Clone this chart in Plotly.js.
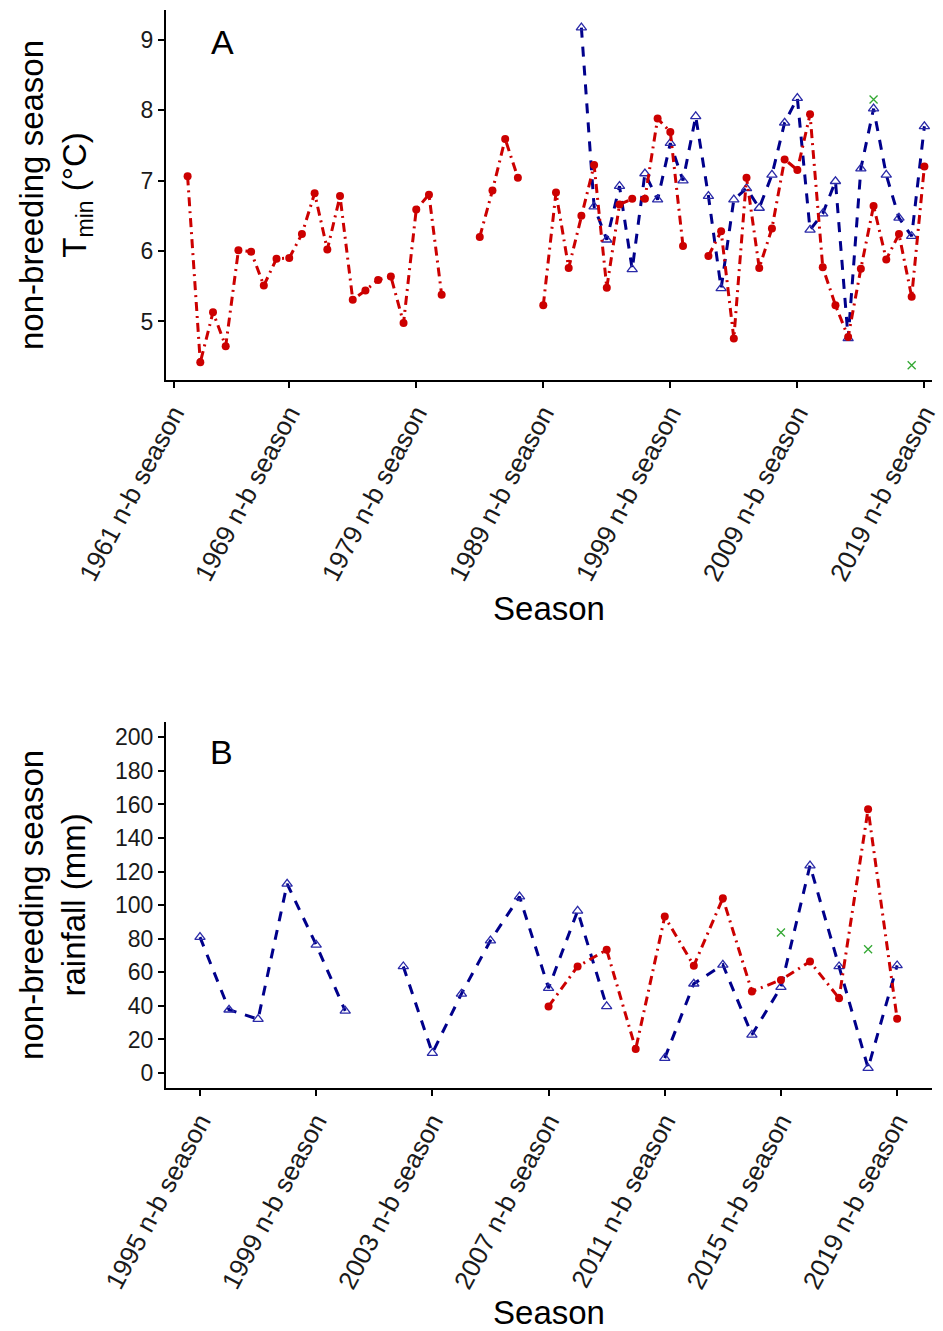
<!DOCTYPE html>
<html>
<head>
<meta charset="utf-8">
<script src="https://cdn.plot.ly/plotly-3.0.1.min.js"></script>
<style>html,body{margin:0;padding:0;background:#fff;}#chart{width:943px;height:1331px;}</style>
</head>
<body>
<div id="chart"></div>
<script>
// ---------- Panel A: non-breeding season Tmin ----------
const yearsA = [1961,1962,1963,1964,1965,1966,1967,1968,1969,1970,1971,1972,1973,1974,1975,1976,1977,1978,1979,1980,
  1981,1982,1983,1984,1985,1986,1987,1988,1989,1990,1991,1992,1993,1994,1995,1996,1997,1998,1999,2000,
  2001,2002,2003,2004,2005,2006,2007,2008,2009,2010,2011,2012,2013,2014,2015,2016,2017,2018,2019];
const redA = [7.06,4.42,5.13,4.65,6.01,5.99,5.51,5.89,5.90,6.24,6.82,6.02,6.78,5.31,5.44,5.59,5.64,4.98,6.59,6.80,
  5.38,null,null,6.20,6.86,7.59,7.04,null,5.23,6.83,5.76,6.50,7.22,5.48,6.66,6.74,6.74,7.88,7.69,6.07,
  null,5.93,6.28,4.76,7.04,5.76,6.32,7.30,7.15,7.94,5.77,5.23,4.78,5.75,6.64,5.88,6.24,5.35,7.20];
const yearsBlueA = [1992,1993,1994,1995,1996,1997,1998,1999,2000,2001,2002,2003,2004,2005,2006,2007,2008,2009,2010,2011,2012,2013,2014,2015,2016,2017,2018,2019];
const blueA = [9.17,6.63,6.16,6.92,5.74,7.10,6.73,7.53,7.00,7.91,6.78,5.47,6.73,6.89,6.61,7.08,7.82,8.17,6.30,6.53,6.99,4.76,7.17,8.02,7.08,6.47,6.21,7.77];
const yearsGreenA = [2015, 2018];
const greenA = [8.15, 4.38];
const tickLabelsA = ["1961 n-b season","1969 n-b season","1979 n-b season","1989 n-b season","1999 n-b season","2009 n-b season","2019 n-b season"];
const tickPosA = [1959.9,1969,1979,1989,1999,2009,2019];

// ---------- Panel B: non-breeding season rainfall ----------
const yearsB = [1995,1996,1997,1998,1999,2000,2001,2002,2003,2004,2005,2006,2007,2008,2009,2010,2011,2012,2013,2014,2015,2016,2017,2018,2019];
const blueB = [81.0,37.7,32.1,112.7,76.4,37.1,null,63.5,11.9,47.2,78.9,105.1,50.6,96.6,39.7,null,8.9,53.2,64.5,22.8,51.2,123.6,63.5,3.0,64.1];
const yearsRedB = [2007,2008,2009,2010,2011,2012,2013,2014,2015,2016,2017,2018,2019];
const redB = [39.7,63.5,73.4,14.3,93.2,63.9,104.2,48.6,55.5,66.4,44.6,157.1,32.3];
const yearsGreenB = [2015, 2018];
const greenB = [83.7, 73.8];
const tickPosB = [1995,1999,2003,2007,2011,2015,2019];
const tickLabelsB = ["1995 n-b season","1999 n-b season","2003 n-b season","2007 n-b season","2011 n-b season","2015 n-b season","2019 n-b season"];

const RED = '#cc0000', BLUE = '#00008b', TRI = '#2a2aa8', GREEN = '#33a833';
const FONT = 'Liberation Sans, Arial, sans-serif';

function redTrace(x, y, xa, ya) {
  return {x: x, y: y, xaxis: xa, yaxis: ya, type: 'scatter', mode: 'lines+markers', connectgaps: false,
    line: {color: RED, width: 3, dash: '9px,5px,2px,5px'},
    marker: {symbol: 'circle', size: 8, color: RED}, showlegend: false};
}
function blueTrace(x, y, xa, ya) {
  return {x: x, y: y, xaxis: xa, yaxis: ya, type: 'scatter', mode: 'lines+markers', connectgaps: false,
    line: {color: BLUE, width: 3, dash: '10px,9px'},
    marker: {symbol: 'triangle-up-open', size: 9, color: TRI, line: {width: 1.3, color: TRI}}, showlegend: false};
}
function greenTrace(x, y, xa, ya) {
  return {x: x, y: y, xaxis: xa, yaxis: ya, type: 'scatter', mode: 'markers',
    marker: {symbol: 'x-thin-open', size: 8, color: GREEN, line: {width: 1.3, color: GREEN}}, showlegend: false};
}

const data = [
  blueTrace(yearsBlueA, blueA, 'x', 'y'),
  redTrace(yearsA, redA, 'x', 'y'),
  greenTrace(yearsGreenA, greenA, 'x', 'y'),
  blueTrace(yearsB, blueB, 'x2', 'y2'),
  redTrace(yearsRedB, redB, 'x2', 'y2'),
  greenTrace(yearsGreenB, greenB, 'x2', 'y2')
];

const axisCommon = {
  showline: true, linecolor: '#000', linewidth: 2, mirror: false,
  showgrid: false, zeroline: false, ticks: 'outside', ticklen: 6, tickwidth: 2, tickcolor: '#000',
  tickfont: {family: FONT, size: 23, color: '#1a1a1a'}, automargin: false
};
const xTickFont = {family: FONT, size: 26, color: '#1a1a1a'};

const layout = {
  width: 943, height: 1331,
  paper_bgcolor: '#fff', plot_bgcolor: '#fff',
  margin: {l: 166, r: 11, t: 10, b: 243},
  font: {family: FONT, color: '#000'},
  xaxis: Object.assign({}, axisCommon, {
    domain: [0, 1], anchor: 'y', range: [1959.3, 2019.6],
    tickmode: 'array', tickvals: tickPosA, ticktext: tickLabelsA, tickangle: -62, tickfont: xTickFont,
    title: {text: 'Season', font: {family: FONT, size: 33, color: '#000'}, standoff: 12}
  }),
  yaxis: Object.assign({}, axisCommon, {
    domain: [0.6568, 1], anchor: 'x', range: [4.17, 9.42],
    tickmode: 'array', tickvals: [5,6,7,8,9],
    title: {text: 'non-breeding season<br>T<sub>min</sub> (°C)', font: {family: FONT, size: 33, color: '#000'}, standoff: 44}
  }),
  xaxis2: Object.assign({}, axisCommon, {
    domain: [0, 1], anchor: 'y2', range: [1993.83, 2020.2],
    tickmode: 'array', tickvals: tickPosB, ticktext: tickLabelsB, tickangle: -62, tickfont: xTickFont,
    title: {text: 'Season', font: {family: FONT, size: 33, color: '#000'}, standoff: 12}
  }),
  yaxis2: Object.assign({}, axisCommon, {
    domain: [0, 0.3398], anchor: 'x2', range: [-8.9, 209.3],
    tickmode: 'array', tickvals: [0,20,40,60,80,100,120,140,160,180,200],
    title: {text: 'non-breeding season<br>rainfall (mm)', font: {family: FONT, size: 33, color: '#000'}, standoff: 19}
  }),
  annotations: [
    {text: 'A', xref: 'x domain', yref: 'y domain', x: 0.0735, y: 0.9135, xanchor: 'center', yanchor: 'middle',
      showarrow: false, font: {family: FONT, size: 34, color: '#000'}},
    {text: 'B', xref: 'x2 domain', yref: 'y2 domain', x: 0.072, y: 0.917, xanchor: 'center', yanchor: 'middle',
      showarrow: false, font: {family: FONT, size: 34, color: '#000'}}
  ]
};

Plotly.newPlot('chart', data, layout, {displayModeBar: false, staticPlot: true});
</script>
</body>
</html>
